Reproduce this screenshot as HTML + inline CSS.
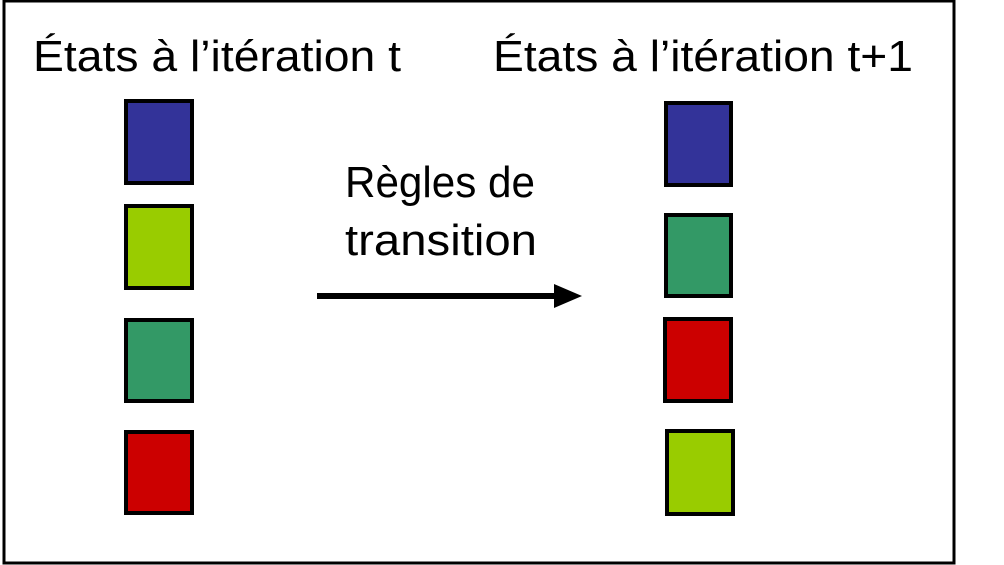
<!DOCTYPE html>
<html><head><meta charset="utf-8"><style>
html,body{margin:0;padding:0;background:#fff;}
svg{display:block;}
text{font-family:"Liberation Sans",sans-serif;fill:#000;}
</style></head><body>
<svg width="1004" height="565" viewBox="0 0 1004 565" xmlns="http://www.w3.org/2000/svg">
<rect x="4" y="1" width="950" height="562" fill="#fff" stroke="#000" stroke-width="3"/>
<text x="33" y="71" font-size="44" textLength="368" lengthAdjust="spacingAndGlyphs">États à l’itération t</text>
<text x="493" y="71" font-size="44" textLength="420" lengthAdjust="spacingAndGlyphs">États à l’itération t+1</text>
<text x="345" y="197" font-size="44" textLength="190" lengthAdjust="spacingAndGlyphs">Règles de</text>
<text x="345" y="255" font-size="44" textLength="192" lengthAdjust="spacingAndGlyphs">transition</text>
<line x1="317" y1="296" x2="556" y2="296" stroke="#000" stroke-width="6"/>
<polygon points="554,284 582,296 554,308" fill="#000"/>
<g stroke="#000" stroke-width="4">
<rect x="126" y="101" width="66" height="82" fill="#333399"/>
<rect x="126" y="206" width="66" height="82" fill="#99cc00"/>
<rect x="126" y="320" width="66" height="81" fill="#339966"/>
<rect x="126" y="432" width="66" height="81" fill="#cc0000"/>
<rect x="666" y="103" width="65" height="82" fill="#333399"/>
<rect x="666" y="215" width="65" height="81" fill="#339966"/>
<rect x="665" y="319" width="66" height="82" fill="#cc0000"/>
<rect x="667" y="431" width="66" height="83" fill="#99cc00"/>
</g>
</svg>
</body></html>
